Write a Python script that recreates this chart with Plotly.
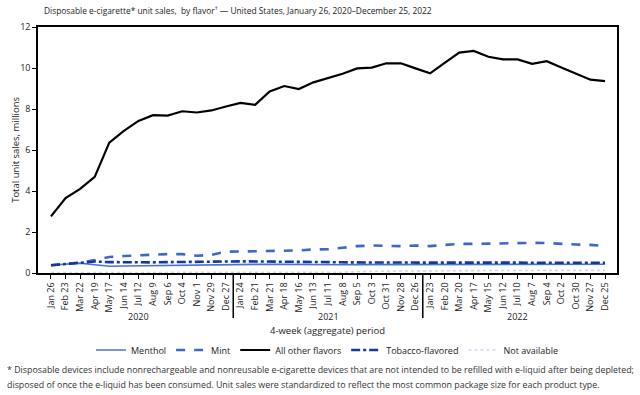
import plotly.graph_objects as go

periods = ["Jan 26", "Feb 23", "Mar 22", "Apr 19", "May 17", "Jun 14", "Jul 12", "Aug 9", "Sep 6", "Oct 4", "Nov 1", "Nov 29", "Dec 27",
           "Jan 24", "Feb 21", "Mar 21", "Apr 18", "May 16", "Jun 13", "Jul 11", "Aug 8", "Sep 5", "Oct 3", "Oct 31", "Nov 28", "Dec 26",
           "Jan 23", "Feb 20", "Mar 20", "Apr 17", "May 15", "Jun 12", "Jul 10", "Aug 7", "Sep 4", "Oct 2", "Oct 30", "Nov 27", "Dec 25"]
years = ["2020", "2021", "2022"]

menthol = [0.38, 0.42, 0.48, 0.40, 0.33, 0.34, 0.35, 0.36, 0.37, 0.38, 0.39, 0.40, 0.42,
           0.44, 0.44, 0.43, 0.42, 0.41, 0.40, 0.40, 0.40, 0.41, 0.41, 0.41, 0.42, 0.42,
           0.42, 0.42, 0.42, 0.43, 0.43, 0.43, 0.43, 0.43, 0.43, 0.43, 0.43, 0.43, 0.43]
mint = [0.38, 0.45, 0.51, 0.63, 0.78, 0.83, 0.87, 0.91, 0.92, 0.92, 0.84, 0.88, 1.04,
        1.05, 1.06, 1.06, 1.08, 1.10, 1.15, 1.16, 1.23, 1.31, 1.34, 1.31, 1.31, 1.34,
        1.31, 1.37, 1.42, 1.42, 1.44, 1.44, 1.47, 1.47, 1.46, 1.41, 1.39, 1.37, 1.32]
all_other = [2.76, 3.66, 4.10, 4.69, 6.36, 6.93, 7.42, 7.70, 7.68, 7.89, 7.83, 7.93, 8.12,
             8.30, 8.20, 8.86, 9.12, 8.97, 9.30, 9.52, 9.72, 9.98, 10.02, 10.23, 10.23, 9.98,
             9.74, 10.25, 10.75, 10.83, 10.55, 10.42, 10.42, 10.20, 10.33, 10.02, 9.74, 9.43, 9.36]
tobacco = [0.38, 0.43, 0.50, 0.56, 0.53, 0.52, 0.52, 0.52, 0.53, 0.53, 0.54, 0.55, 0.56,
           0.57, 0.56, 0.55, 0.56, 0.53, 0.52, 0.53, 0.53, 0.52, 0.51, 0.51, 0.51, 0.51,
           0.51, 0.51, 0.51, 0.51, 0.51, 0.51, 0.52, 0.52, 0.53, 0.53, 0.52, 0.51, 0.50]
not_avail = [0.02, 0.02, 0.02, 0.02, 0.02, 0.02, 0.02, 0.02, 0.02, 0.02, 0.02, 0.02, 0.02,
             0.02, 0.02, 0.02, 0.02, 0.02, 0.02, 0.03, 0.04, 0.06, 0.08, 0.09, 0.10, 0.10,
             0.11, 0.11, 0.12, 0.12, 0.12, 0.12, 0.13, 0.13, 0.13, 0.13, 0.13, 0.13, 0.13]

FONT = "Open Sans"
x = list(range(len(periods)))

fig = go.Figure()
fig.add_trace(go.Scatter(x=x, y=menthol, name="Menthol", mode="lines",
                         line=dict(color="#4a72cf", width=1.6)))
fig.add_trace(go.Scatter(x=x, y=mint, name="Mint", mode="lines",
                         line=dict(color="#3d67c9", width=2.6, dash="dash")))
fig.add_trace(go.Scatter(x=x, y=all_other, name="All other flavors", mode="lines",
                         line=dict(color="#000000", width=2.2)))
fig.add_trace(go.Scatter(x=x, y=tobacco, name="Tobacco-flavored", mode="lines",
                         line=dict(color="#1436a6", width=2.6, dash="dashdot")))
fig.add_trace(go.Scatter(x=x, y=not_avail, name="Not available", mode="lines",
                         line=dict(color="#cdd8ef", width=1.6, dash="dot")))

fig.update_xaxes(range=[-0.89, len(periods) - 1 + 0.82], tickvals=x, ticktext=periods,
                 tickangle=-90, ticks="outside", ticklen=4, tickcolor="#000",
                 showline=True, linecolor="#000", linewidth=1.5, mirror=True,
                 showgrid=False, zeroline=False,
                 tickfont=dict(family=FONT, size=9, color="#222"))
fig.update_yaxes(range=[0, 12], tickvals=[0, 2, 4, 6, 8, 10, 12],
                 ticks="outside", ticklen=4, tickcolor="#000",
                 showline=True, linecolor="#000", linewidth=1.5, mirror=True,
                 showgrid=False, zeroline=False,
                 tickfont=dict(family=FONT, size=9, color="#222"))

# year separators and labels
n_per_year = 13
for k in range(1, len(years)):
    xs = k * n_per_year - 0.5
    fig.add_shape(type="line", xref="x", yref="paper", x0=xs, x1=xs, y0=0, y1=-0.183,
                  line=dict(color="#000", width=1.5))
for k, yr in enumerate(years):
    fig.add_annotation(x=k * n_per_year + (n_per_year - 1) / 2, y=-0.175, xref="x", yref="paper",
                       text=yr, showarrow=False, yanchor="middle", xanchor="center",
                       font=dict(family=FONT, size=9, color="#222"))

fig.add_annotation(x=0.5, y=-0.232, xref="paper", yref="paper", text="4-week (aggregate) period",
                   showarrow=False, yanchor="middle", xanchor="center",
                   font=dict(family=FONT, size=9.5, color="#222"))
fig.add_annotation(x=-0.04, y=0.5, xref="paper", yref="paper", text="Total unit sales, millions",
                   showarrow=False, textangle=-90, xanchor="center", yanchor="middle",
                   font=dict(family=FONT, size=9.5, color="#222"))
fig.add_annotation(x=0.007, y=1.069, xref="paper", yref="paper", xanchor="left",
                   text="Disposable e-cigarette* unit sales,  by flavor<sup>†</sup> — United States, January 26, 2020–December 25, 2022",
                   showarrow=False, yanchor="middle", font=dict(family=FONT, size=8.4, color="#222"))
fig.add_annotation(x=-0.057, y=-0.394, xref="paper", yref="paper", xanchor="left",
                   text="* Disposable devices include nonrechargeable and nonreusable e-cigarette devices that are not intended to be refilled with e-liquid after being depleted;",
                   showarrow=False, yanchor="middle", font=dict(family=FONT, size=8.85, color="#333"))
fig.add_annotation(x=-0.057, y=-0.455, xref="paper", yref="paper", xanchor="left",
                   text="disposed of once the e-liquid has been consumed. Unit sales were standardized to reflect the most common package size for each product type.",
                   showarrow=False, yanchor="middle", font=dict(family=FONT, size=8.85, color="#333"))

fig.update_layout(
    width=640, height=395,
    margin=dict(l=38, r=23, t=27, b=122),
    paper_bgcolor="white", plot_bgcolor="white",
    showlegend=True,
    legend=dict(orientation="h", x=0.5, xanchor="center", y=-0.313, yanchor="middle",
                font=dict(family=FONT, size=9, color="#222"), itemwidth=30,
                bgcolor="rgba(0,0,0,0)"),
    font=dict(family=FONT),
)

fig.write_html("out.html", config={"displayModeBar": False},
               post_script="document.body.style.margin='0';document.body.style.padding='0';")
